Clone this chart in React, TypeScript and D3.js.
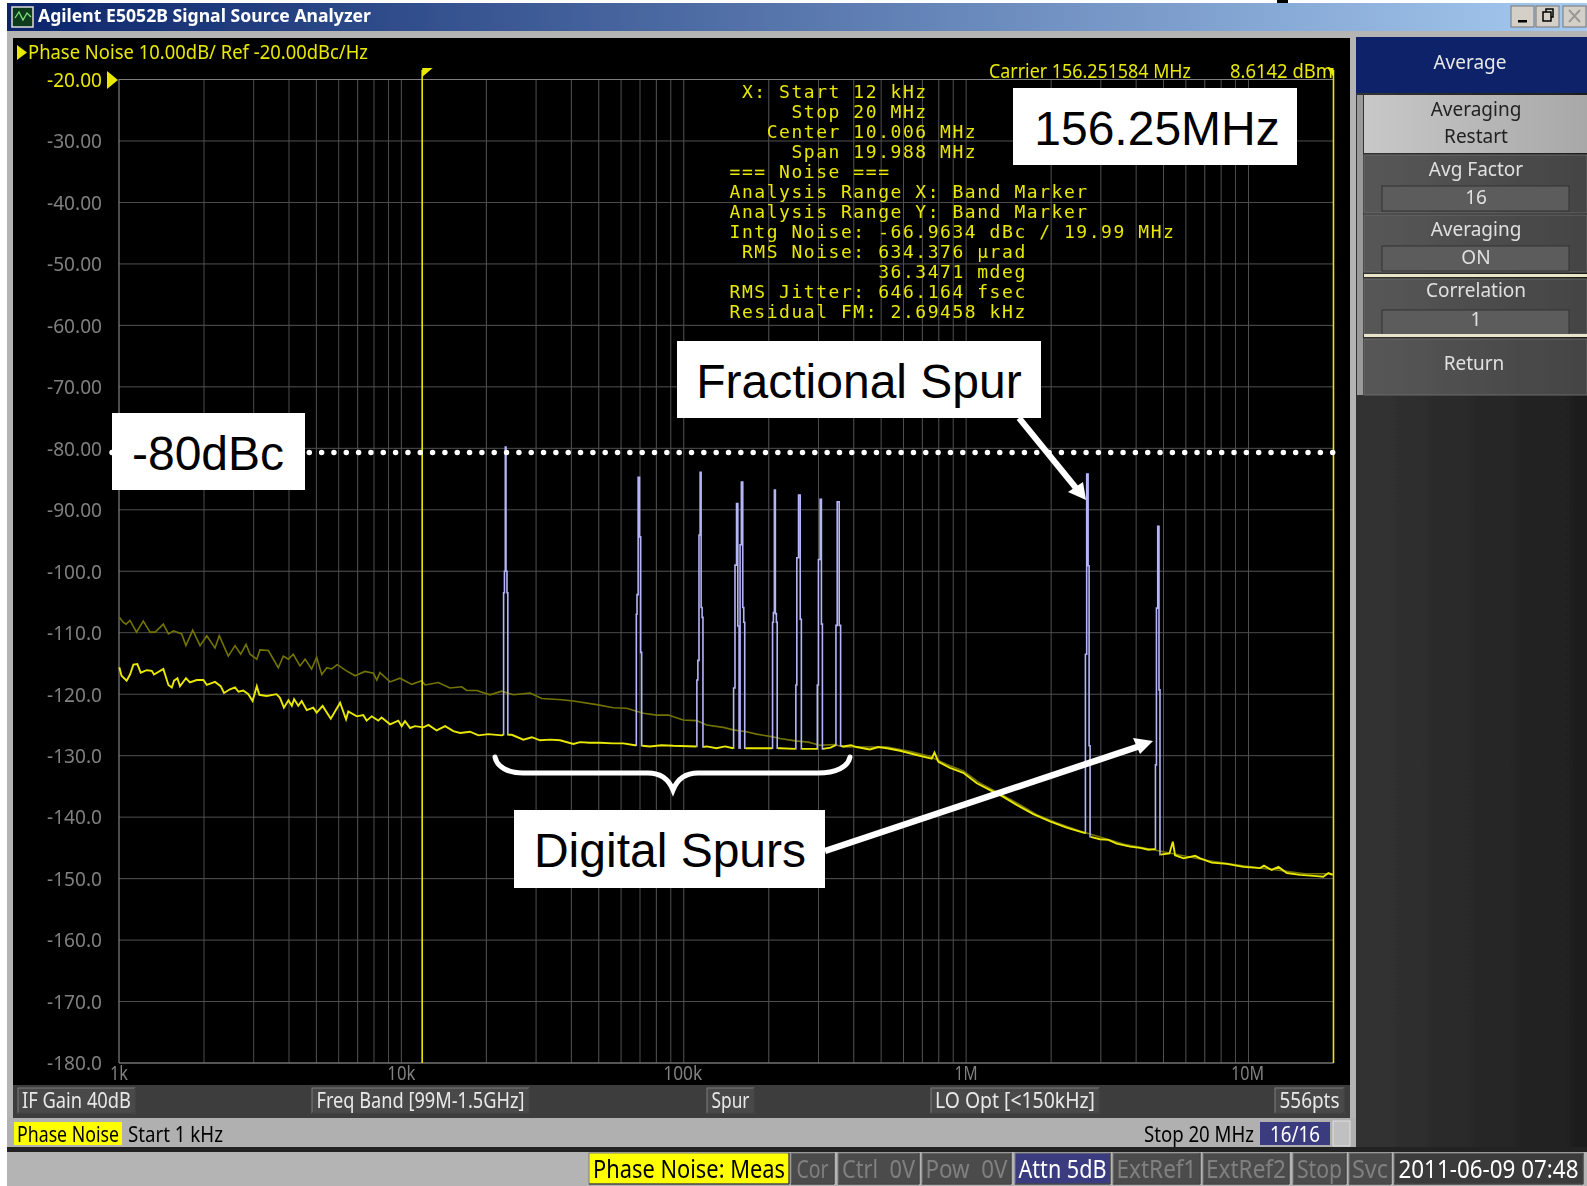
import React from "react";
import * as d3 from "d3";

const yTicks = [-20,-30,-40,-50,-60,-70,-80,-90,-100,-110,-120,-130,-140,-150,-160,-170,-180];
const yLabels = ["-20.00","-30.00","-40.00","-50.00","-60.00","-70.00","-80.00","-90.00","-100.0","-110.0","-120.0","-130.0","-140.0","-150.0","-160.0","-170.0","-180.0"];
const decades = [1e3,1e4,1e5,1e6,1e7];
const xTickLabels = ["1k","10k","100k","1M","10M"];
const xLabelDx = [0,0,-1,0,-1];
const bandStartLogF = 4.0737;
const bandStopLogF = 4.301 + 3;
const limitDb = -80.7;

// [log10(offset Hz), dBc/Hz]; null = gap where a spur is drawn
const mainTrace: [number, number | null][] = [
[3.001,-115.6],[3.009,-117.0],[3.027,-117.8],[3.039,-116.8],[3.051,-115.2],[3.065,-115.1],[3.077,-116.5],[3.098,-116.1],[3.116,-116.2],[3.124,-116.8],[3.157,-115.9],[3.175,-118.5],[3.187,-118.9],[3.195,-117.8],[3.207,-117.4],[3.216,-118.7],[3.237,-117.4],[3.251,-118.1],[3.275,-117.7],[3.299,-117.7],[3.311,-118.5],[3.340,-118.0],[3.360,-118.7],[3.372,-119.8],[3.393,-119.2],[3.411,-118.9],[3.423,-119.6],[3.440,-119.4],[3.458,-120.0],[3.473,-121.1],[3.488,-118.7],[3.497,-120.1],[3.523,-120.3],[3.558,-120.0],[3.570,-120.6],[3.584,-122.2],[3.600,-121.0],[3.612,-121.9],[3.620,-120.8],[3.635,-121.9],[3.647,-121.1],[3.665,-122.6],[3.688,-122.2],[3.700,-123.0],[3.721,-121.9],[3.750,-124.0],[3.783,-121.4],[3.804,-124.1],[3.812,-122.8],[3.842,-123.6],[3.865,-123.4],[3.877,-124.3],[3.895,-123.6],[3.918,-124.3],[3.930,-123.8],[3.960,-124.9],[3.989,-124.3],[4.001,-125.2],[4.013,-124.4],[4.031,-125.5],[4.048,-125.2],[4.078,-125.4],[4.096,-125.0],[4.125,-125.9],[4.155,-125.2],[4.184,-126.0],[4.208,-126.3],[4.243,-126.1],[4.273,-126.7],[4.308,-126.5],[4.355,-126.7],[4.361,-126.6],
[4.370,null],
[4.378,-126.6],[4.391,-126.6],[4.432,-127.4],[4.462,-127.0],[4.491,-127.5],[4.527,-127.4],[4.562,-127.5],[4.609,-128.1],[4.633,-127.8],[4.668,-127.9],[4.704,-127.9],[4.750,-128.0],[4.786,-128.0],[4.827,-128.3],[4.831,-128.3],
[4.841,null],
[4.853,-128.4],[4.880,-128.5],[4.921,-128.3],[4.963,-128.4],[5.045,-128.5],
[5.057,null],
[5.069,-128.6],[5.081,-128.5],[5.116,-128.8],[5.146,-128.5],[5.175,-128.8],
[5.190,null],
[5.218,-128.8],[5.282,-128.8],[5.313,-128.8],
[5.323,null],
[5.332,-128.8],[5.341,-128.8],[5.396,-128.9],
[5.407,null],
[5.418,-128.9],[5.472,-128.9],
[5.483,null],
[5.493,-128.9],[5.520,-128.7],[5.538,-128.3],
[5.547,null],
[5.557,-128.4],[5.565,-128.5],[5.592,-128.3],[5.612,-128.6],[5.659,-129.0],[5.689,-128.6],[5.720,-128.8],[5.766,-129.2],[5.825,-129.9],[5.878,-130.5],[5.888,-129.5],[5.902,-131.0],[5.943,-132.0],[5.990,-132.8],[6.038,-134.5],[6.085,-135.6],[6.132,-136.7],[6.179,-138.0],[6.238,-139.5],[6.297,-140.7],[6.356,-141.7],[6.421,-142.6],
[6.430,null],
[6.441,-143.2],[6.474,-143.6],[6.504,-143.7],[6.533,-144.3],[6.581,-144.8],[6.616,-145.0],[6.646,-145.3],[6.666,-145.2],[6.669,-145.2],
[6.680,null],
[6.688,-146.1],[6.720,-145.9],[6.732,-144.0],[6.740,-146.2],[6.770,-146.7],[6.811,-146.3],[6.829,-146.7],[6.870,-147.4],[6.923,-147.6],[6.982,-148.1],[7.041,-148.3],[7.055,-147.9],[7.082,-148.6],[7.106,-148.1],[7.136,-149.1],[7.183,-149.4],[7.242,-149.6],[7.265,-149.7],[7.283,-149.1],[7.298,-149.4],
];

const memoryTrace: [number, number][] = [
[3.001,-107.5],[3.015,-108.3],[3.025,-108.6],[3.039,-108.0],[3.062,-109.9],[3.086,-108.1],[3.110,-109.9],[3.128,-109.9],[3.157,-108.6],[3.175,-110.2],[3.193,-109.7],[3.222,-110.2],[3.237,-112.1],[3.261,-109.6],[3.287,-112.1],[3.311,-110.5],[3.340,-112.5],[3.355,-110.5],[3.387,-113.8],[3.411,-112.1],[3.431,-113.5],[3.450,-111.9],[3.464,-113.5],[3.488,-114.3],[3.499,-112.8],[3.529,-112.9],[3.564,-115.7],[3.582,-113.8],[3.600,-114.3],[3.617,-113.5],[3.641,-115.4],[3.659,-114.3],[3.682,-115.9],[3.700,-114.0],[3.718,-116.8],[3.736,-115.7],[3.753,-115.9],[3.773,-115.2],[3.806,-116.2],[3.836,-117.0],[3.871,-116.3],[3.901,-116.6],[3.913,-117.7],[3.924,-116.5],[3.960,-118.0],[3.995,-117.4],[4.037,-118.4],[4.072,-117.8],[4.084,-118.5],[4.131,-118.1],[4.172,-119.0],[4.214,-118.8],[4.231,-119.4],[4.267,-119.4],[4.314,-120.1],[4.355,-119.5],[4.397,-120.1],[4.456,-119.8],[4.497,-120.7],[4.568,-120.9],[4.609,-121.1],[4.692,-121.7],[4.750,-122.2],[4.797,-122.3],[4.827,-122.7],[4.857,-123.1],[4.904,-123.4],[4.945,-123.4],[4.998,-124.2],[5.045,-124.3],[5.081,-125.0],[5.140,-125.4],[5.175,-125.8],[5.222,-126.1],[5.258,-126.5],[5.311,-126.9],[5.341,-127.2],[5.394,-127.6],[5.441,-127.8],[5.482,-128.3],[5.535,-128.2],[5.565,-128.6],[5.640,-128.6],[5.720,-128.6],[5.800,-129.3],[5.870,-130.1],[5.930,-131.4],[5.990,-132.5],[6.050,-134.5],[6.100,-135.7],[6.180,-137.7],[6.250,-139.6],[6.320,-140.9],[6.400,-142.2],[6.480,-143.3],[6.560,-144.4],[6.640,-145.1],[6.760,-146.2],[6.860,-147.1],[6.980,-147.9],[7.100,-148.6],[7.200,-149.2],[7.298,-149.2],
];

const spurs: [number, number][][] = [
[[4.361,-126.6],[4.363,-103.5],[4.367,-100],[4.369,-79.8],[4.372,-100],[4.376,-103.5],[4.378,-126.6]],
[[4.831,-128.3],[4.833,-107],[4.836,-103.8],[4.841,-84.7],[4.846,-94.4],[4.849,-113.2],[4.853,-128.4]],
[[5.045,-128.5],[5.048,-117.7],[5.052,-114.5],[5.056,-94.1],[5.060,-83.9],[5.063,-105.9],[5.067,-107.5],[5.069,-128.6]],
[[5.175,-128.8],[5.178,-119],[5.185,-99],[5.189,-89],[5.194,-108.9],[5.198,-128.8]],
[[5.198,-128.8],[5.201,-95.7],[5.207,-85.5],[5.211,-105.9],[5.214,-108.3],[5.218,-128.8]],
[[5.313,-128.8],[5.316,-108.3],[5.319,-106.7],[5.323,-86.8],[5.326,-106.9],[5.330,-108.3],[5.332,-128.8]],
[[5.396,-128.9],[5.398,-118.5],[5.403,-97.8],[5.410,-87.6],[5.415,-107.8],[5.418,-128.9]],
[[5.472,-128.9],[5.474,-118.5],[5.480,-98.1],[5.486,-88.3],[5.489,-108.6],[5.493,-128.9]],
[[5.538,-128.3],[5.540,-108.8],[5.547,-88.7],[5.554,-108.8],[5.557,-128.4]],
[[6.421,-142.6],[6.424,-113.5],[6.430,-84.2],[6.434,-99.1],[6.437,-128.4],[6.441,-143.2]],
[[6.669,-145.2],[6.672,-131.5],[6.676,-106],[6.681,-92.7],[6.685,-119.3],[6.688,-146.1]],
];

const infoLines = [
" X: Start 12 kHz",
"     Stop 20 MHz",
"   Center 10.006 MHz",
"     Span 19.988 MHz",
"=== Noise ===",
"Analysis Range X: Band Marker",
"Analysis Range Y: Band Marker",
"Intg Noise: -66.9634 dBc / 19.99 MHz",
" RMS Noise: 634.376 µrad",
"            36.3471 mdeg",
"RMS Jitter: 646.164 fsec",
"Residual FM: 2.69458 kHz",
];

const YEL = "#e8e800";
const UI = "'Noto Sans', sans-serif";

function T({ x, y, s = 20, fill = "#e0e0e0", a = "start", len, w, f = UI, children }: any) {
  return (
    <text x={x} y={y} fontSize={s} fill={fill} textAnchor={a} fontFamily={f} fontWeight={w}
      dominantBaseline="middle" textLength={len} lengthAdjust={len ? "spacingAndGlyphs" : undefined}
      style={{ whiteSpace: "pre" }}>{children}</text>
  );
}

function Btn({ x, y, w, h, fill = "#4a4a4a", tx = "#e8e8e8", label, len, s = 21, dy = 2 }: any) {
  return (
    <g>
      <rect x={x} y={y} width={w} height={h} fill={fill} stroke="#7c7c7c" strokeWidth={1} />
      <path d={`M${x + w} ${y}V${y + h}H${x}`} stroke="#2a2a2a" fill="none" />
      <T x={x + w / 2} y={y + h / 2 + dy} a="middle" fill={tx} len={len} s={s}>{label}</T>
    </g>
  );
}

function SoftKey({ y, h, title, value, ty = 16, vy = 44 }: any) {
  return (
    <g>
      <rect x={1364} y={y} width={223} height={h} fill="url(#keyGrad)" stroke="#6a6a6a" />
      <T x={1476} y={y + ty} a="middle" s={19}>{title}</T>
      <rect x={1382} y={y + 31} width={187} height={25} fill="#5c5c5c" stroke="#333" />
      <T x={1476} y={y + vy} a="middle" s={19}>{value}</T>
    </g>
  );
}

export default function App() {
  const x = d3.scaleLog().domain([1e3, 2e7]).range([119, 1333.5]);
  const y = d3.scaleLinear().domain([-20, -180]).range([79.5, 1063]);
  const xl = (l: number) => x(Math.pow(10, l));

  const minor: number[] = [];
  decades.forEach((d) => d3.range(1, 10).forEach((m) => { const f = d * m; if (f <= 2e7 && f > 1e3) minor.push(f); }));

  const line = d3.line<[number, number | null]>()
    .defined((d) => d[1] !== null)
    .x((d) => xl(d[0]))
    .y((d) => y(d[1] as number));
  const spurLine = d3.line<[number, number]>()
    .x((d) => xl(d[0])).y((d) => y(d[1])).curve(d3.curveStep);

  const yL = y(limitDb);
  const bx = xl(bandStartLogF);
  const bxr = xl(bandStopLogF);

  return (
    <svg width={1587} height={1186} viewBox="0 0 1587 1186"
      style={{ position: "absolute", left: 0, top: 0, display: "block", background: "#fff" }}>
      <defs>
        <linearGradient id="titleGrad" x1="0" x2="1" y1="0" y2="0">
          <stop offset="0" stopColor="#0a246a" /><stop offset="1" stopColor="#a6caf0" />
        </linearGradient>
        <linearGradient id="keyGrad" x1="0" x2="1" y1="0" y2="0">
          <stop offset="0" stopColor="#575757" /><stop offset="1" stopColor="#444" />
        </linearGradient>
        <linearGradient id="lightKey" x1="0" x2="1" y1="0" y2="0">
          <stop offset="0" stopColor="#c8c8c8" /><stop offset="1" stopColor="#a8a8a8" />
        </linearGradient>
        <linearGradient id="panelGrad" x1="0" x2="1" y1="0" y2="0">
          <stop offset="0" stopColor="#333" /><stop offset="1" stopColor="#1e1e1e" />
        </linearGradient>
        <filter id="soft" filterUnits="userSpaceOnUse" x="0" y="0" width="1587" height="1186">
          <feGaussianBlur stdDeviation="0.45" />
        </filter>
      </defs>

      <g filter="url(#soft)">
      {/* window chrome */}
      <rect x={1277} y={0} width={11} height={4} fill="#000" />
      <rect x={7} y={3} width={1580} height={1183} fill="#b4b4b4" />
      <rect x={7} y={3} width={1580} height={28} fill="url(#titleGrad)" />
      <rect x={12} y={7} width={21} height={20} fill="#0b3a1a" stroke="#ddd" strokeWidth={1.5} />
      <path d="M15 18 L19 12 L23 20 L27 13 L31 17" stroke="#7fe07f" strokeWidth={1.3} fill="none" />
      <T x={38} y={17} s={17} w={700} fill="#fff" len={333}>Agilent E5052B Signal Source Analyzer</T>
      {[1511, 1536, 1563].map((bxx, i) => (
        <g key={bxx}>
          <rect x={bxx} y={6} width={23} height={21} fill="#d4d0c8" stroke="#777" />
          {i === 0 && <rect x={bxx + 7} y={20} width={9} height={2.5} fill="#000" />}
          {i === 1 && <path d={`M${bxx + 7} 21h8v-9h-8zM${bxx + 10} 12v-3h7v8h-2`} fill="none" stroke="#000" strokeWidth={1.5} />}
          {i === 2 && <path d={`M${bxx + 6} 10l11 12M${bxx + 17} 10l-11 12`} stroke="#999" strokeWidth={2} />}
        </g>
      ))}

      {/* plot panel */}
      <rect x={13} y={38} width={1337} height={1047} fill="#000" />
      <rect x={1356} y={37} width={231} height={1110} fill="url(#panelGrad)" />
      <rect x={1357} y={95} width={6} height={300} fill="#9a9a9a" />

      {/* grid */}
      {minor.map((f) => (
        <line key={f} x1={x(f)} x2={x(f)} y1={79.5} y2={1063} stroke="#505050" strokeWidth={1} />
      ))}
      {yTicks.map((t) => (
        <line key={t} x1={119} x2={1333.5} y1={y(t)} y2={y(t)} stroke="#505050" strokeWidth={1} />
      ))}
      <path d={`M119 1063V79.5H1333.5M119 1063H1333.5`} fill="none" stroke="#808080" strokeWidth={1.2} />

      {/* axis labels */}
      {yTicks.map((t, i) => (
        <T key={t} x={102} y={y(t) + 2} a="end" s={20} fill={i === 0 ? YEL : "#808080"} len={55}>{yLabels[i]}</T>
      ))}
      {decades.map((d, i) => (
        <T key={d} x={x(d) + xLabelDx[i]} y={1075} a="middle" s={20} fill="#808080" len={[18, 28, 39, 23, 33][i]}>{xTickLabels[i]}</T>
      ))}

      {/* traces */}
      <path d={line(memoryTrace) as string} fill="none" stroke="#737300" strokeWidth={1.6} />
      {spurs.map((s, i) => (
        <path key={i} d={spurLine(s) as string} fill="none" stroke="#b4b4f8" strokeWidth={1.6} />
      ))}
      <path d={line(mainTrace) as string} fill="none" stroke={YEL} strokeWidth={1.9} />

      {/* band markers */}
      <line x1={bx} x2={bx} y1={70} y2={1063} stroke={YEL} strokeWidth={1.6} />
      <line x1={bxr} x2={bxr} y1={70} y2={1063} stroke={YEL} strokeWidth={1.6} />
      <path d={`M${bx} 68h10.5L${bx} 77z`} fill={YEL} />
      <path d={`M${bxr} 68h-6L${bxr} 77z`} fill={YEL} />
      <path d="M107 71L118 80L107 89z" fill={YEL} />
      <path d="M17 45L27 52.5L17 60z" fill={YEL} />

      {/* header texts */}
      <T x={28} y={54} s={20} fill={YEL} len={340}>Phase Noise 10.00dB/ Ref -20.00dBc/Hz</T>
      <T x={989} y={73} s={20} fill={YEL} len={202}>Carrier 156.251584 MHz</T>
      <T x={1230} y={73} s={20} fill={YEL} len={103}>8.6142 dBm</T>

      {infoLines.map((l, i) => (
        <text key={i} x={729.5} y={98.3 + i * 20} fontFamily="'DejaVu Sans Mono', monospace" fontSize={18}
          letterSpacing={1.55} fill={YEL} style={{ whiteSpace: "pre" }}>{l}</text>
      ))}
      </g>

      {/* limit line */}
      <line x1={112} x2={1342} y1={yL} y2={yL} stroke="#fff" strokeWidth={5.5} strokeLinecap="round" strokeDasharray="0 12.33" />

      {/* callouts */}
      <rect x={1013} y={88} width={284} height={77} fill="#fff" />
      <text x={1157} y={145} textAnchor="middle" fontFamily="'Liberation Sans', Arial, sans-serif" fontSize={48} fill="#000">156.25MHz</text>
      <rect x={677} y={341} width={364} height={77} fill="#fff" />
      <text x={859} y={398} textAnchor="middle" fontFamily="'Liberation Sans', Arial, sans-serif" fontSize={48} fill="#000">Fractional Spur</text>
      <rect x={112} y={413} width={193} height={77} fill="#fff" />
      <text x={208} y={470} textAnchor="middle" fontFamily="'Liberation Sans', Arial, sans-serif" fontSize={48} fill="#000">-80dBc</text>
      <rect x={514} y={810} width={311} height={78} fill="#fff" />
      <text x={670} y={867} textAnchor="middle" fontFamily="'Liberation Sans', Arial, sans-serif" fontSize={48} fill="#000">Digital Spurs</text>

      <path d="M1019 418L1076 488" stroke="#fff" strokeWidth={6} fill="none" />
      <path d="M1086 500L1068 492L1083 482z" fill="#fff" />
      <path d="M825 851L1140 746" stroke="#fff" strokeWidth={6.5} fill="none" />
      <path d="M1153 741L1133 738L1140 754z" fill="#fff" />
      <path d="M495 757C497 767 508 773 523 773H648C662 773 669 780 673 790C677 780 684 773 698 773H818C836 773 848 767 850 757"
        stroke="#fff" strokeWidth={5} fill="none" strokeLinecap="round" />

      <g filter="url(#soft)">
      {/* bottom button strip */}
      <rect x={13} y={1085} width={1337} height={33} fill="#3c3c3c" />
      <Btn x={18} y={1088} w={117} h={25} label="IF Gain 40dB" len={109} />
      <Btn x={312} y={1088} w={217} h={25} label="Freq Band [99M-1.5GHz]" len={208} />
      <Btn x={707} y={1088} w={47} h={25} label="Spur" len={38} />
      <Btn x={931} y={1088} w={168} h={25} label="LO Opt [<150kHz]" len={160} />
      <Btn x={1275} y={1088} w={69} h={25} label="556pts" len={60} />

      {/* status rows */}
      <rect x={7} y={1118} width={1349} height={29} fill="#b0b0b0" />
      <rect x={14} y={1122} width={108} height={23} fill="#ffff00" />
      <T x={68} y={1136} a="middle" fill="#000" len={102} s={21}>Phase Noise</T>
      <T x={128} y={1136} fill="#000" len={95} s={21}>Start 1 kHz</T>
      <T x={1144} y={1136} fill="#000" len={110} s={21}>Stop 20 MHz</T>
      <rect x={1260} y={1122} width={70} height={23} fill="#3a3a80" />
      <T x={1295} y={1136} a="middle" fill="#fff" len={50} s={21}>16/16</T>
      <rect x={1333} y={1121} width={17} height={25} fill="#c0c0c0" stroke="#e0e0e0" />

      <rect x={7} y={1147} width={1580} height={5} fill="#222" />
      <rect x={7} y={1152} width={1580} height={34} fill="#b4b4b4" />
      <Btn x={589} y={1153} w={200} h={31} fill="#ffff00" tx="#000" label="Phase Noise: Meas" len={192} s={25} dy={3} />
      <Btn x={791} y={1153} w={43} h={31} fill="#4c4c4c" tx="#808080" label="Cor" len={32} s={25} dy={3} />
      <Btn x={838} y={1153} w={81} h={31} fill="#4c4c4c" tx="#808080" label="Ctrl  0V" len={73} s={25} dy={3} />
      <Btn x={922} y={1153} w={89} h={31} fill="#4c4c4c" tx="#808080" label="Pow  0V" len={82} s={25} dy={3} />
      <Btn x={1015} y={1153} w={95} h={31} fill="#3a3a80" tx="#fff" label="Attn 5dB" len={88} s={25} dy={3} />
      <Btn x={1113} y={1153} w={87} h={31} fill="#4c4c4c" tx="#808080" label="ExtRef1" len={80} s={25} dy={3} />
      <Btn x={1203} y={1153} w={86} h={31} fill="#4c4c4c" tx="#808080" label="ExtRef2" len={80} s={25} dy={3} />
      <Btn x={1293} y={1153} w={53} h={31} fill="#4c4c4c" tx="#808080" label="Stop" len={45} s={25} dy={3} />
      <Btn x={1349} y={1153} w={42} h={31} fill="#4c4c4c" tx="#808080" label="Svc" len={36} s={25} dy={3} />
      <Btn x={1394} y={1153} w={189} h={31} fill="#3a3a3a" tx="#fff" label="2011-06-09 07:48" len={180} s={25} dy={3} />

      {/* soft keys */}
      <rect x={1356} y={37} width={231} height={56} fill="#0a2468" />
      <T x={1470} y={64} a="middle" fill="#e8e8e8" s={19}>Average</T>
      <rect x={1364} y={95} width={223} height={58} fill="url(#lightKey)" />
      <T x={1476} y={111} a="middle" fill="#222" s={19}>Averaging</T>
      <T x={1476} y={138} a="middle" fill="#222" s={19}>Restart</T>
      <SoftKey y={155} h={58} title="Avg Factor" value="16" />
      <SoftKey y={215} h={57} title="Averaging" value="ON" />
      <rect x={1364} y={274} width={223} height={3} fill="#e8e4c8" />
      <SoftKey y={279} h={55} title="Correlation" value="1" ty={13} vy={42} />
      <rect x={1364} y={334} width={223} height={3} fill="#e8e4c8" />
      <rect x={1364} y={339} width={223} height={56} fill="url(#keyGrad)" stroke="#6a6a6a" />
      <T x={1474} y={365} a="middle" s={19}>Return</T>
      </g>
    </svg>
  );
}
